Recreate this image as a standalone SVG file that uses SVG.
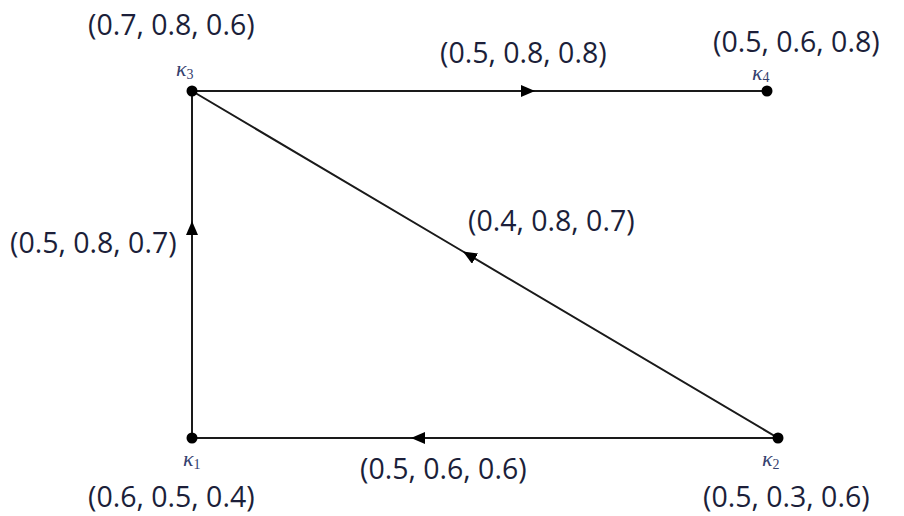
<svg xmlns="http://www.w3.org/2000/svg" width="904" height="516" viewBox="0 0 904 516">
<defs>
<style>
.lbl{font-family:"Open Sans","Liberation Sans",sans-serif;font-size:28.5px;fill:#1c1f3a}
.k{font-family:"Liberation Serif","DejaVu Serif",serif;font-style:italic;font-size:22px;fill:#34406e}
.ks{font-family:"Liberation Serif","DejaVu Serif",serif;font-style:normal;font-size:14px;fill:#34406e}
.e{stroke:#1a1a1a;stroke-width:2;fill:none;marker-mid:url(#ah)}
</style>
<marker id="ah" viewBox="0 0 14 12" refX="14" refY="6" markerWidth="14" markerHeight="12" markerUnits="userSpaceOnUse" orient="auto">
<path d="M0,0 L14,6 L0,12 Z" fill="#000"/>
</marker>
</defs>
<rect width="904" height="516" fill="#fff"/>
<g id="connectors">
<path class="e" d="M192,91 L535,91 L767,91"/>
<path class="e" d="M192,438 L192,221 L192,91"/>
<path class="e" d="M778,438 L411,438 L192,438"/>
<path class="e" d="M778,438 L463,251.5 L192,91"/>
</g>
<g id="k3"><circle cx="192" cy="91" r="5.5" fill="#000"/><text class="k" x="176" y="76">κ<tspan class="ks" dy="3">3</tspan></text></g>
<g id="k4"><circle cx="767" cy="91" r="5.5" fill="#000"/><text class="k" x="752" y="80">κ<tspan class="ks" dy="2">4</tspan></text></g>
<g id="k1"><circle cx="192" cy="438" r="5.5" fill="#000"/><text class="k" x="183" y="466">κ<tspan class="ks" dy="3">1</tspan></text></g>
<g id="k2"><circle cx="778" cy="438" r="5.5" fill="#000"/><text class="k" x="762" y="466">κ<tspan class="ks" dy="3">2</tspan></text></g>
<g id="labels">
<text class="lbl" x="88" y="35">(0.7, 0.8, 0.6)</text>
<text class="lbl" x="440" y="63">(0.5, 0.8, 0.8)</text>
<text class="lbl" x="713" y="52">(0.5, 0.6, 0.8)</text>
<text class="lbl" x="468" y="231">(0.4, 0.8, 0.7)</text>
<text class="lbl" x="10" y="253">(0.5, 0.8, 0.7)</text>
<text class="lbl" x="360" y="479">(0.5, 0.6, 0.6)</text>
<text class="lbl" x="88" y="507">(0.6, 0.5, 0.4)</text>
<text class="lbl" x="703" y="507">(0.5, 0.3, 0.6)</text>
</g>
</svg>
